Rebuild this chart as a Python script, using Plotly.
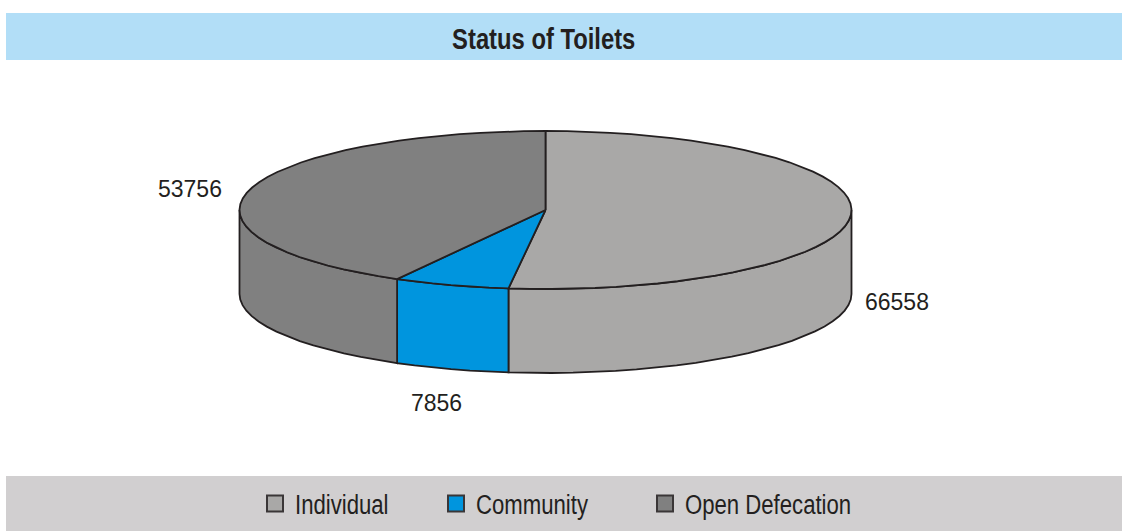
import numpy as np
import plotly.graph_objects as go

categories = ["Individual", "Community", "Open Defecation"]
values = [66558, 7856, 53756]
colors = ["#a9a8a7", "#0095de", "#808080"]

WIDTH, HEIGHT = 1122, 531
CX, CY, RX, RY, DEPTH = 545.5, 210, 306, 79, 84
INK = "#231f20"
LINE_W = 1.8
SANS = "Liberation Sans, Arial, sans-serif"


def rim(a0, a1, dy=0.0):
    # The reference outline is a coarse polygon, so keep the segments fairly long
    n = max(2, int(abs(a1 - a0) * 14) + 2)
    t = np.linspace(a0, a1, n)
    return CX + RX * np.sin(t), CY + dy - RY * np.cos(t)


fractions = np.array(values) / sum(values)
edges = np.concatenate([[0.0], np.cumsum(fractions)]) * 2 * np.pi

fig = go.Figure()

# Side walls: only the front half of the rim is visible
for name, col, a0, a1 in zip(categories, colors, edges[:-1], edges[1:]):
    lo, hi = max(a0, np.pi / 2), min(a1, 3 * np.pi / 2)
    if lo >= hi:
        continue
    xt, yt = rim(lo, hi)
    xb, yb = rim(hi, lo, DEPTH)
    fig.add_trace(go.Scatter(
        x=np.r_[xt, xb, xt[0]], y=np.r_[yt, yb, yt[0]], mode="lines", fill="toself",
        fillcolor=col, line=dict(color=INK, width=LINE_W), showlegend=False, name=name,
        hoverinfo="skip"))

# Top faces
for name, col, a0, a1, v in zip(categories, colors, edges[:-1], edges[1:], values):
    xr, yr = rim(a0, a1)
    fig.add_trace(go.Scatter(
        x=np.r_[CX, xr, CX], y=np.r_[CY, yr, CY], mode="lines", fill="toself",
        fillcolor=col, line=dict(color=INK, width=LINE_W), showlegend=False, name=name,
        hoverinfo="text", text=f"{name}: {v}"))

# Legend keys, one native legend per entry so each sits where the reference has it
legend_keys = ["legend", "legend2", "legend3"]
legend_left = [255, 436, 645]
for name, col, key in zip(categories, colors, legend_keys):
    fig.add_trace(go.Scatter(
        x=[None], y=[None], mode="markers", name=name, legend=key,
        marker=dict(symbol="square", size=17, color=col, line=dict(color="#3a3637", width=2))))

legend_style = dict(
    orientation="h", xanchor="left", yanchor="middle", y=1 - 504 / HEIGHT,
    bgcolor="rgba(0,0,0,0)", font=dict(family=SANS, size=27, color=INK),
    itemclick=False, itemdoubleclick=False, itemwidth=30)

label_pos = [(897, 302), (436, 403), (190, 189)]
annotations = [
    dict(x=x, y=y, xref="x", yref="y", text=str(v), showarrow=False,
         font=dict(family=SANS, size=23, color=INK))
    for v, (x, y) in zip(values, label_pos)
]
annotations.append(dict(
    x=543.5, y=39, xref="x", yref="y", text="<b>Status of Toilets</b>", showarrow=False,
    font=dict(family=SANS, size=29, color=INK)))

layout_extra = {
    key: dict(legend_style, x=left / WIDTH)
    for key, left in zip(legend_keys, legend_left)
}

fig.update_layout(
    width=WIDTH, height=HEIGHT, margin=dict(l=0, r=0, t=0, b=0),
    paper_bgcolor="white", plot_bgcolor="white",
    xaxis=dict(range=[0, WIDTH], visible=False, fixedrange=True),
    yaxis=dict(range=[HEIGHT, 0], visible=False, fixedrange=True),
    shapes=[
        dict(type="rect", xref="x", yref="y", x0=6, x1=WIDTH, y0=13, y1=60,
             fillcolor="#b2def7", line=dict(width=0), layer="below"),
        dict(type="rect", xref="x", yref="y", x0=6, x1=WIDTH, y0=476, y1=HEIGHT,
             fillcolor="#d1cfd0", line=dict(width=0), layer="below"),
    ],
    annotations=annotations,
    **layout_extra,
)

# No narrow face is installed, so the title and legend text are condensed in place.
post = """
document.body.style.margin = '0';
var NARROW = 0.82;
function condense() {
  document.querySelectorAll('.legendtext, .legend2text, .legend3text, .annotation-text').forEach(function (t) {
    if (t.classList.contains('annotation-text') && t.textContent.indexOf('Status') < 0) return;
    if (t.getAttribute('textLength')) return;
    var w = t.getComputedTextLength();
    if (!w) return;
    t.setAttribute('textLength', w * NARROW);
    t.setAttribute('lengthAdjust', 'spacingAndGlyphs');
  });
}
condense();
[0, 50, 200, 500].forEach(function (ms) { setTimeout(condense, ms); });
"""
fig.write_html("out.html", post_script=post, config={"displayModeBar": False})
